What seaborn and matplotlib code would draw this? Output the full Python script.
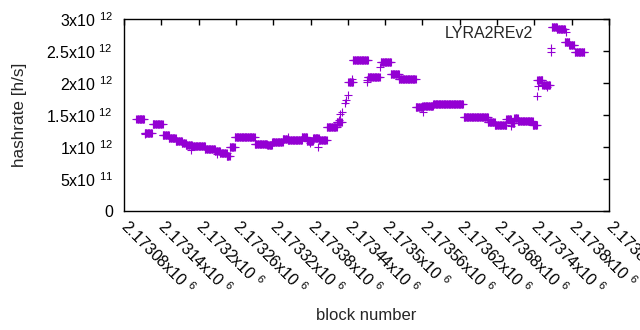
import matplotlib
matplotlib.use("Agg")
import matplotlib.pyplot as plt
import numpy as np
import pandas as pd
import seaborn as sns

# plateaus: first block, last block, hashrate (x10^12 h/s)
seg_start = [2173100, 2173113, 2173126, 2173142, 2173152, 2173163, 2173173, 2173179,
             2173189, 2173210, 2173226, 2173234, 2173245, 2173250, 2173258, 2173290,
             2173310, 2173318, 2173335, 2173343, 2173366, 2173374, 2173384, 2173393,
             2173406, 2173422, 2173441, 2173448, 2173472, 2173493, 2173509, 2173522,
             2173549, 2173560, 2173577, 2173626, 2173665, 2173676, 2173695, 2173702,
             2173708, 2173713, 2173737, 2173745, 2173753, 2173768, 2173776, 2173789,
             2173796, 2173805]
seg_end = [2173112, 2173125, 2173142, 2173152, 2173163, 2173173, 2173179, 2173189,
           2173210, 2173226, 2173234, 2173245, 2173250, 2173258, 2173290, 2173310,
           2173318, 2173335, 2173343, 2173366, 2173374, 2173384, 2173393, 2173406,
           2173422, 2173430, 2173448, 2173472, 2173491, 2173509, 2173522, 2173549,
           2173560, 2173577, 2173625, 2173665, 2173676, 2173695, 2173702, 2173708,
           2173713, 2173737, 2173744, 2173753, 2173765, 2173776, 2173789, 2173796,
           2173804, 2173820]
seg_rate = [1.433, 1.223, 1.355, 1.183, 1.14, 1.094, 1.055, 1.027,
            1.016, 0.964, 0.938, 0.906, 0.855, 1.005, 1.152, 1.042,
            1.031, 1.073, 1.12, 1.109, 1.152, 1.098, 1.136, 1.109,
            1.308, 1.395, 2.02, 2.36, 2.10, 2.325, 2.14, 2.07,
            1.62, 1.64, 1.67, 1.464, 1.386, 1.344, 1.445, 1.37,
            1.448, 1.403, 1.344, 2.047, 1.97, 2.88, 2.84, 2.64,
            2.59, 2.49]

# single scattered blocks
extra_block = [2173114, 2173187, 2173229, 2173344, 2173379, 2173392, 2173425, 2173428,
               2173431, 2173435, 2173437, 2173440, 2173446, 2173470, 2173471, 2173491,
               2173561, 2173702, 2173744, 2173746, 2173766, 2173766, 2173791, 2173760]
extra_rate = [1.203, 0.955, 0.89, 1.15, 1.058, 1.005, 1.42, 1.52,
              1.55, 1.68, 1.73, 1.81, 2.07, 2.05, 2.02, 2.25,
              1.55, 1.33, 1.79, 1.95, 2.54, 2.49, 2.79, 1.94]

xtick_vals = [2173080 + 60 * i for i in range(14)]
xtick_labels = ["2.17308", "2.17314", "2.1732", "2.17326", "2.17332", "2.17338", "2.17344",
                "2.1735", "2.17356", "2.17362", "2.17368", "2.17374", "2.1738", "2.17386"]
ytick_vals = [0, 0.5e12, 1e12, 1.5e12, 2e12, 2.5e12, 3e12]
ytick_labels = ["0", "5x10 $^{11}$", "1x10 $^{12}$", "1.5x10 $^{12}$", "2x10 $^{12}$",
                "2.5x10 $^{12}$", "3x10 $^{12}$"]

rows = []
for s, e, r in zip(seg_start, seg_end, seg_rate):
    for b in range(s, e + 1):
        rows.append((b, r * 1e12))
for b, r in zip(extra_block, extra_rate):
    rows.append((b, r * 1e12))
df = pd.DataFrame(rows, columns=["block", "hashrate"])

sns.set_style("white")
plt.rcParams["font.family"] = ["Liberation Sans", "DejaVu Sans"]
plt.rcParams["mathtext.fontset"] = "custom"
plt.rcParams["mathtext.rm"] = "Liberation Sans"
plt.rcParams["mathtext.it"] = "Liberation Sans"

fig, ax = plt.subplots(figsize=(6.4, 3.3), dpi=100)
fig.subplots_adjust(left=124 / 640, right=609 / 640, top=1 - 19 / 330, bottom=1 - 211 / 330)

sns.scatterplot(data=df, x="block", y="hashrate", marker="+", color="#9400D3",
                s=28, linewidth=0.8, ax=ax, legend=False)

ax.set_xlim(2173080, 2173860)
ax.set_ylim(0, 3e12)
ax.set_xticks(xtick_vals)
ax.set_xticklabels([l + "x10 $^{6}$" for l in xtick_labels], rotation=-45,
                   ha="left", va="center", rotation_mode="anchor", fontsize=11.5)
ax.set_yticks(ytick_vals)
ax.set_yticklabels(ytick_labels, fontsize=11.5)
ax.tick_params(direction="in", length=4, width=1, top=True, right=True,
               colors="black", pad=8)
ax.tick_params(axis="x", pad=9)
for sp in ax.spines.values():
    sp.set_color("black")
    sp.set_linewidth(1)

ax.set_xlabel("block number", fontsize=12)
ax.set_ylabel("hashrate [h/s]", fontsize=12.3)
ax.xaxis.set_label_coords(0.5, -0.505)
ax.yaxis.set_label_coords(-0.2, 0.5)
ax.text(0.843, 0.925, "LYRA2REv2", transform=ax.transAxes, ha="right", va="center",
        fontsize=11.5)

fig.savefig("out.png", dpi=100)
